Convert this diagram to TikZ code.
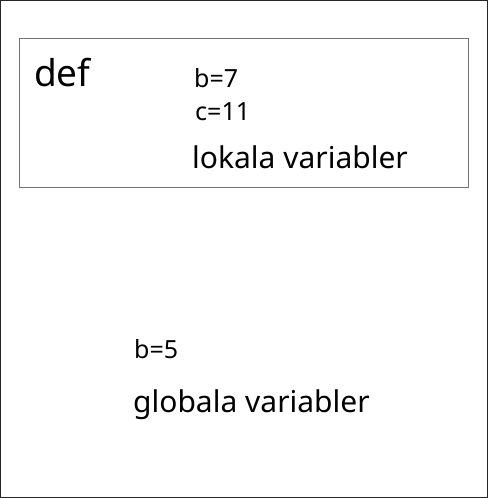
\documentclass[tikz,border=0pt]{standalone}
\usepackage{fontspec}
\setmainfont{Noto Sans}
\begin{document}
\begin{tikzpicture}[x=1pt,y=-1pt,
  label/.style={inner sep=0pt,anchor=base west},
  big/.style={label,font=\fontsize{37}{40}\selectfont},
  mid/.style={label,font=\fontsize{30}{33}\selectfont},
  small/.style={label,font=\fontsize{25}{28}\selectfont}]
% page frame
\useasboundingbox (0,0) rectangle (488,498);
\draw[line width=1.2pt,black!85] (0.8,0.8) rectangle (487.2,497.2);
% scope of the function
\draw[line width=1pt,black!55] (19.5,38.5) rectangle (468.5,187);
\node[big] (def) at (34,86.5) {def};
\node[small] (b7) at (194,87) {b=7};
\node[small] (c11) at (195,120) {c=11};
\node[mid] (lok) at (192,168) {lokala variabler};
% global scope
\node[small] (b5) at (134,358) {b=5};
\node[mid] (glob) at (133,412) {globala variabler};
\end{tikzpicture}
\end{document}
